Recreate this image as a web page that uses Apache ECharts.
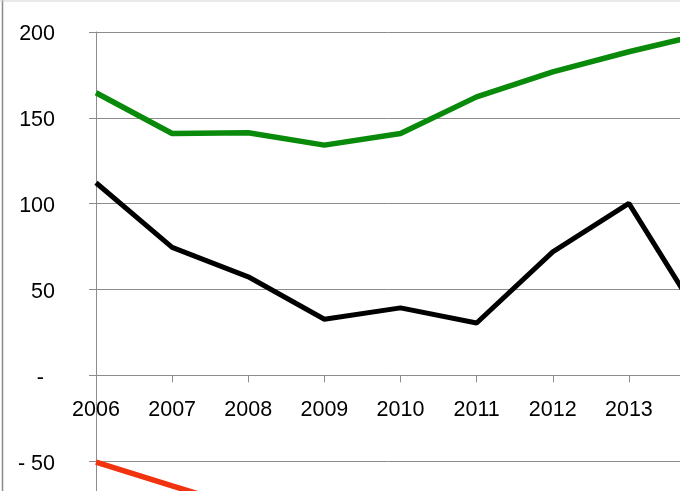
<!DOCTYPE html>
<html>
<head>
<meta charset="utf-8">
<script src="https://cdn.jsdelivr.net/npm/echarts@6/dist/echarts.min.js"></script>
<style>
  html, body { margin: 0; padding: 0; background: #fff; }
  #chart { width: 680px; height: 491px; }
</style>
</head>
<body>
<div id="chart"></div>
<script>
// years along the axis (the last one lies past the cropped right edge)
const years = ['2006', '2007', '2008', '2009', '2010', '2011', '2012', '2013', '2014']

// values
const greenValues = [164.6, 140.9, 141.3, 134.1, 140.9, 162.2, 176.8, 188.5, 199]
const blackValues = [112.2, 74.5, 57.4, 32.7, 39.3, 30.5, 71.9, 100.2, 29]
const redValues = [-50.6, -64.4, -78, null, null, null, null, null, null]

// y ticks
const yMin = -100
const yMax = 200
const yStep = 50

const axisGray = '#8c8c8c'
const labelFont = 'Liberation Sans'

// plot is cropped on the right and bottom, so the grid runs past the canvas
const gridTop = 32
const gridHeight = 515
// move the category axis up from the grid bottom to the zero line
const zeroOffset = -(gridHeight * (0 - yMin) / (yMax - yMin))

const chart = echarts.init(document.getElementById('chart'))

const fmtY = (v) => {
  if (v === 0) return '{z|-}'
  if (v < 0) return '- ' + Math.abs(v)
  return String(v)
}

chart.setOption({
  animation: false,
  backgroundColor: '#fff',
  grid: { left: 96, top: gridTop, width: 609, height: gridHeight, outerBoundsMode: 'none', containLabel: false },
  xAxis: {
    type: 'category',
    data: years,
    boundaryGap: false,
    position: 'bottom',
    offset: zeroOffset,
    axisLine: { onZero: false, lineStyle: { color: axisGray, width: 1 } },
    axisTick: { alignWithLabel: true, length: 7, lineStyle: { color: axisGray } },
    axisLabel: {
      interval: 0,
      margin: 24,
      color: '#000',
      fontFamily: labelFont,
      fontSize: 21.5
    },
    splitLine: { show: false }
  },
  yAxis: {
    type: 'value',
    min: yMin,
    max: yMax,
    interval: yStep,
    axisLine: { show: true, lineStyle: { color: axisGray, width: 1 } },
    axisTick: { show: true, length: 7, lineStyle: { color: axisGray } },
    axisLabel: {
      margin: 41,
      padding: [5, 0, 0, 0],
      color: '#000',
      fontFamily: labelFont,
      fontSize: 21.5,
      formatter: fmtY,
      rich: {
        z: { fontFamily: labelFont, fontSize: 21.5, color: '#000', padding: [0, 11, 0, 0] }
      }
    },
    splitLine: { show: true, lineStyle: { color: axisGray, width: 1 } }
  },
  series: [
    {
      type: 'line',
      data: greenValues,
      symbol: 'none',
      lineStyle: { color: '#0a8a0a', width: 5.5 }
    },
    {
      type: 'line',
      data: blackValues,
      symbol: 'none',
      lineStyle: { color: '#000', width: 5 }
    },
    {
      type: 'line',
      data: redValues,
      symbol: 'none',
      lineStyle: { color: '#f2330f', width: 5.5 }
    }
  ],
  graphic: [
    { type: 'line', shape: { x1: 2.5, y1: 0, x2: 2.5, y2: 491 }, style: { stroke: '#8a8a8a', lineWidth: 1.5 } },
    { type: 'line', shape: { x1: 0, y1: 1, x2: 680, y2: 1 }, style: { stroke: '#d4d4d4', lineWidth: 1 } }
  ]
})
</script>
</body>
</html>
